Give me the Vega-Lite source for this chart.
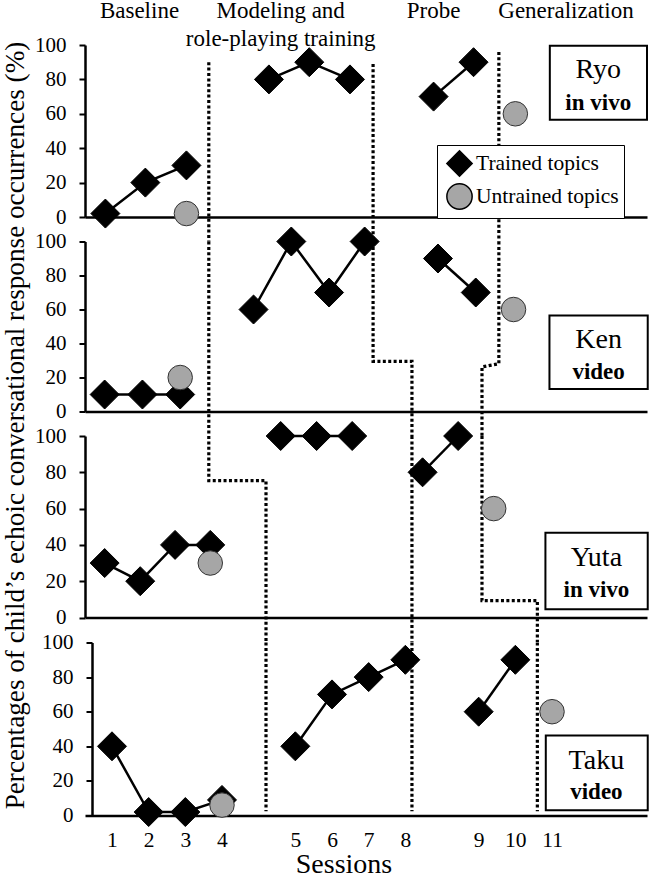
{
  "$schema": "https://vega.github.io/schema/vega-lite/v6.json",
  "background": "white",
  "padding": {"left": 0, "top": 0, "right": 0, "bottom": 0},
  "config": {
    "font": "Liberation Serif",
    "view": {"stroke": null},
    "axis": {"grid": false, "domainColor": "black", "domainWidth": 2.5, "tickColor": "black", "tickWidth": 2, "tickSize": 6, "labelFont": "Liberation Serif", "labelFontSize": 21, "labelColor": "black", "labelPadding": 13, "labelOverlap": false, "titleFont": "Liberation Serif", "titleColor": "black", "titleFontWeight": "normal"},
    "legend": {"rowPadding": 0, "symbolSize": 640, "padding": 5},
    "text": {"font": "Liberation Serif", "color": "black"}
  },
  "datasets": {
    "points": [
      {"child": "Ryo", "phase": "Baseline", "topic": "Trained topics", "pos": 0.82, "value": 2},
      {"child": "Ryo", "phase": "Baseline", "topic": "Trained topics", "pos": 1.91, "value": 20},
      {"child": "Ryo", "phase": "Baseline", "topic": "Trained topics", "pos": 3.03, "value": 30},
      {"child": "Ryo", "phase": "Training", "topic": "Trained topics", "pos": 5.28, "value": 80},
      {"child": "Ryo", "phase": "Training", "topic": "Trained topics", "pos": 6.38, "value": 90},
      {"child": "Ryo", "phase": "Training", "topic": "Trained topics", "pos": 7.49, "value": 80},
      {"child": "Ryo", "phase": "Probe", "topic": "Trained topics", "pos": 9.77, "value": 70},
      {"child": "Ryo", "phase": "Probe", "topic": "Trained topics", "pos": 10.86, "value": 90},
      {"child": "Ryo", "phase": "Baseline", "topic": "Untrained topics", "pos": 3.03, "value": 2},
      {"child": "Ryo", "phase": "Generalization", "topic": "Untrained topics", "pos": 12.0, "value": 60},
      {"child": "Ken", "phase": "Baseline", "topic": "Trained topics", "pos": 0.8, "value": 10},
      {"child": "Ken", "phase": "Baseline", "topic": "Trained topics", "pos": 1.83, "value": 10},
      {"child": "Ken", "phase": "Baseline", "topic": "Trained topics", "pos": 2.86, "value": 10},
      {"child": "Ken", "phase": "Training", "topic": "Trained topics", "pos": 4.86, "value": 60},
      {"child": "Ken", "phase": "Training", "topic": "Trained topics", "pos": 5.89, "value": 100},
      {"child": "Ken", "phase": "Training", "topic": "Trained topics", "pos": 6.92, "value": 70},
      {"child": "Ken", "phase": "Training", "topic": "Trained topics", "pos": 7.89, "value": 100},
      {"child": "Ken", "phase": "Probe", "topic": "Trained topics", "pos": 9.89, "value": 90},
      {"child": "Ken", "phase": "Probe", "topic": "Trained topics", "pos": 10.92, "value": 70},
      {"child": "Ken", "phase": "Baseline", "topic": "Untrained topics", "pos": 2.86, "value": 20},
      {"child": "Ken", "phase": "Generalization", "topic": "Untrained topics", "pos": 11.95, "value": 60},
      {"child": "Yuta", "phase": "Baseline", "topic": "Trained topics", "pos": 0.8, "value": 30},
      {"child": "Yuta", "phase": "Baseline", "topic": "Trained topics", "pos": 1.77, "value": 20},
      {"child": "Yuta", "phase": "Baseline", "topic": "Trained topics", "pos": 2.72, "value": 40},
      {"child": "Yuta", "phase": "Baseline", "topic": "Trained topics", "pos": 3.68, "value": 40},
      {"child": "Yuta", "phase": "Training", "topic": "Trained topics", "pos": 5.6, "value": 100},
      {"child": "Yuta", "phase": "Training", "topic": "Trained topics", "pos": 6.58, "value": 100},
      {"child": "Yuta", "phase": "Training", "topic": "Trained topics", "pos": 7.55, "value": 100},
      {"child": "Yuta", "phase": "Probe", "topic": "Trained topics", "pos": 9.47, "value": 80},
      {"child": "Yuta", "phase": "Probe", "topic": "Trained topics", "pos": 10.44, "value": 100},
      {"child": "Yuta", "phase": "Baseline", "topic": "Untrained topics", "pos": 3.68, "value": 30},
      {"child": "Yuta", "phase": "Generalization", "topic": "Untrained topics", "pos": 11.41, "value": 60},
      {"child": "Taku", "phase": "Baseline", "topic": "Trained topics", "pos": 1, "value": 40},
      {"child": "Taku", "phase": "Baseline", "topic": "Trained topics", "pos": 2, "value": 2},
      {"child": "Taku", "phase": "Baseline", "topic": "Trained topics", "pos": 3, "value": 2},
      {"child": "Taku", "phase": "Baseline", "topic": "Trained topics", "pos": 4, "value": 9},
      {"child": "Taku", "phase": "Training", "topic": "Trained topics", "pos": 6, "value": 40},
      {"child": "Taku", "phase": "Training", "topic": "Trained topics", "pos": 7, "value": 70},
      {"child": "Taku", "phase": "Training", "topic": "Trained topics", "pos": 8, "value": 80},
      {"child": "Taku", "phase": "Training", "topic": "Trained topics", "pos": 9, "value": 90},
      {"child": "Taku", "phase": "Probe", "topic": "Trained topics", "pos": 11, "value": 60},
      {"child": "Taku", "phase": "Probe", "topic": "Trained topics", "pos": 12, "value": 90},
      {"child": "Taku", "phase": "Baseline", "topic": "Untrained topics", "pos": 4, "value": 6},
      {"child": "Taku", "phase": "Generalization", "topic": "Untrained topics", "pos": 13, "value": 60}
    ],
    "phaselines": [
      {"child": "Ryo", "seg": "A", "ord": 1, "pos": 3.64, "value": 90},
      {"child": "Ryo", "seg": "A", "ord": 2, "pos": 3.64, "value": -14.2},
      {"child": "Ryo", "seg": "B", "ord": 1, "pos": 8.12, "value": 89},
      {"child": "Ryo", "seg": "B", "ord": 2, "pos": 8.12, "value": -14.2},
      {"child": "Ryo", "seg": "C", "ord": 1, "pos": 11.55, "value": 96},
      {"child": "Ryo", "seg": "C", "ord": 2, "pos": 11.55, "value": -14.2},
      {"child": "Ken", "seg": "A", "ord": 1, "pos": 3.64, "value": 100},
      {"child": "Ken", "seg": "A", "ord": 2, "pos": 3.64, "value": -14.4},
      {"child": "Ken", "seg": "B", "ord": 1, "pos": 8.12, "value": 100},
      {"child": "Ken", "seg": "B", "ord": 2, "pos": 8.12, "value": 29.5},
      {"child": "Ken", "seg": "B", "ord": 3, "pos": 9.18, "value": 29.5},
      {"child": "Ken", "seg": "B", "ord": 4, "pos": 9.18, "value": -14.4},
      {"child": "Ken", "seg": "C", "ord": 1, "pos": 11.55, "value": 100},
      {"child": "Ken", "seg": "C", "ord": 2, "pos": 11.55, "value": 28.1},
      {"child": "Ken", "seg": "C", "ord": 3, "pos": 11.09, "value": 26.2},
      {"child": "Ken", "seg": "C", "ord": 4, "pos": 11.09, "value": -14.4},
      {"child": "Yuta", "seg": "A", "ord": 1, "pos": 3.64, "value": 100},
      {"child": "Yuta", "seg": "A", "ord": 2, "pos": 3.64, "value": 75.4},
      {"child": "Yuta", "seg": "A", "ord": 3, "pos": 5.2, "value": 75.4},
      {"child": "Yuta", "seg": "A", "ord": 4, "pos": 5.2, "value": -13.5},
      {"child": "Yuta", "seg": "B", "ord": 1, "pos": 9.18, "value": 100},
      {"child": "Yuta", "seg": "B", "ord": 2, "pos": 9.18, "value": -13.5},
      {"child": "Yuta", "seg": "C", "ord": 1, "pos": 11.09, "value": 100},
      {"child": "Yuta", "seg": "C", "ord": 2, "pos": 11.09, "value": 9.3},
      {"child": "Yuta", "seg": "C", "ord": 3, "pos": 12.6, "value": 9.3},
      {"child": "Yuta", "seg": "C", "ord": 4, "pos": 12.6, "value": -13.5},
      {"child": "Taku", "seg": "A", "ord": 1, "pos": 5.2, "value": 100},
      {"child": "Taku", "seg": "A", "ord": 2, "pos": 5.2, "value": 2.5},
      {"child": "Taku", "seg": "B", "ord": 1, "pos": 9.18, "value": 100},
      {"child": "Taku", "seg": "B", "ord": 2, "pos": 9.18, "value": 2.5},
      {"child": "Taku", "seg": "C", "ord": 1, "pos": 12.6, "value": 100},
      {"child": "Taku", "seg": "C", "ord": 2, "pos": 12.6, "value": 2.5}
    ],
    "kids": [
      {"child": "Ryo", "mode": "in vivo"},
      {"child": "Ken", "mode": "video"},
      {"child": "Yuta", "mode": "in vivo"},
      {"child": "Taku", "mode": "video"}
    ],
    "headers": [
      {"phase": "Baseline", "pos": 1.75},
      {"phase": "Modeling and\nrole-playing training", "pos": 5.6},
      {"phase": "Probe", "pos": 9.77},
      {"phase": "Generalization", "pos": 13.38}
    ]
  },
  "vconcat": [
    {
      "width": 562, "height": 172,
      "layer": [
        {"data": {"name": "phaselines"}, "transform": [{"filter": "datum.child === 'Ryo'"}],
         "mark": {"type": "line", "strokeDash": [3, 2.4], "strokeWidth": 3.2, "color": "black"},
         "encoding": {
           "x": {"field": "pos", "type": "quantitative", "scale": {"domain": [0.264, 15.59], "nice": false, "zero": false}, "axis": {"ticks": false, "labels": false, "title": null}},
           "y": {"field": "value", "type": "quantitative", "scale": {"domain": [0, 100], "nice": false}, "axis": {"values": [0, 20, 40, 60, 80, 100], "tickCount": 6, "labelOverlap": false, "title": null}},
           "detail": {"field": "seg"}, "order": {"field": "ord"}}},
        {"data": {"name": "points"}, "transform": [{"filter": "datum.child === 'Ryo' && datum.topic === 'Trained topics'"}],
         "mark": {"type": "line", "color": "black", "strokeWidth": 2.5},
         "encoding": {"x": {"field": "pos", "type": "quantitative"}, "y": {"field": "value", "type": "quantitative", "axis": {"values": [0, 20, 40, 60, 80, 100], "tickCount": 6, "labelOverlap": false, "title": null}}, "detail": {"field": "phase"}}},
        {"data": {"name": "points"}, "transform": [{"filter": "datum.child === 'Ryo' && datum.topic === 'Trained topics'"}],
         "mark": {"type": "point", "filled": true, "opacity": 1, "size": 841, "stroke": "#000000", "strokeWidth": 1},
         "encoding": {"x": {"field": "pos", "type": "quantitative"}, "y": {"field": "value", "type": "quantitative", "axis": {"values": [0, 20, 40, 60, 80, 100], "tickCount": 6, "labelOverlap": false, "title": null}},
           "shape": {"field": "topic", "type": "nominal", "scale": {"domain": ["Trained topics", "Untrained topics"], "range": ["diamond", "circle"]}, "legend": {"orient": "none", "legendX": 352, "legendY": 100, "title": null, "symbolOffset": 4, "strokeColor": "black", "fillColor": "white", "labelFont": "Liberation Serif", "labelFontSize": 21.5, "labelColor": "black", "labelOffset": 3, "labelLimit": 300}},
           "color": {"field": "topic", "type": "nominal", "scale": {"domain": ["Trained topics", "Untrained topics"], "range": ["#000000", "#a6a6a6"]}, "legend": {"orient": "none", "legendX": 352, "legendY": 100, "title": null, "symbolOffset": 4, "strokeColor": "black", "fillColor": "white", "labelFont": "Liberation Serif", "labelFontSize": 21.5, "labelColor": "black", "labelOffset": 3, "labelLimit": 300}}}},
        {"data": {"name": "points"}, "transform": [{"filter": "datum.child === 'Ryo' && datum.topic === 'Untrained topics'"}],
         "mark": {"type": "point", "filled": true, "opacity": 1, "size": 600, "stroke": "#333333", "strokeWidth": 1},
         "encoding": {"x": {"field": "pos", "type": "quantitative"}, "y": {"field": "value", "type": "quantitative", "axis": {"values": [0, 20, 40, 60, 80, 100], "tickCount": 6, "labelOverlap": false, "title": null}},
           "shape": {"field": "topic", "type": "nominal"},
           "color": {"field": "topic", "type": "nominal"}}},
        {"data": {"name": "kids"}, "transform": [{"filter": "datum.child === 'Ryo'"}],
         "mark": {"type": "rect", "fill": "white", "stroke": "black", "strokeWidth": 2},
         "encoding": {"x": {"datum": 12.94, "type": "quantitative"}, "x2": {"datum": 15.59}, "y": {"datum": 99.6, "type": "quantitative"}, "y2": {"datum": 56.6}}},
        {"data": {"name": "kids"}, "transform": [{"filter": "datum.child === 'Ryo'"}],
         "mark": {"type": "text", "fontSize": 28, "baseline": "middle", "align": "center"},
         "encoding": {"x": {"datum": 14.26, "type": "quantitative"}, "y": {"datum": 85.6, "type": "quantitative"}, "text": {"field": "child"}}},
        {"data": {"name": "kids"}, "transform": [{"filter": "datum.child === 'Ryo'"}],
         "mark": {"type": "text", "fontSize": 23, "fontWeight": "bold", "baseline": "middle", "align": "center"},
         "encoding": {"x": {"datum": 14.26, "type": "quantitative"}, "y": {"datum": 66.2, "type": "quantitative"}, "text": {"field": "mode"}}},
        {"data": {"name": "headers"},
         "mark": {"type": "text", "fontSize": 23, "baseline": "alphabetic", "align": "center", "lineBreak": "\n", "lineHeight": 27.4},
         "encoding": {"x": {"field": "pos", "type": "quantitative"}, "y": {"datum": 115.5, "type": "quantitative"}, "text": {"field": "phase"}}}
      ]
    },
    {
      "width": 562, "height": 170,
      "layer": [
        {"data": {"name": "phaselines"}, "transform": [{"filter": "datum.child === 'Ken'"}],
         "mark": {"type": "line", "strokeDash": [3, 2.4], "strokeWidth": 3.2, "color": "black"},
         "encoding": {
           "x": {"field": "pos", "type": "quantitative", "scale": {"domain": [0.264, 15.59], "nice": false, "zero": false}, "axis": {"ticks": false, "labels": false, "title": null}},
           "y": {"field": "value", "type": "quantitative", "scale": {"domain": [0, 100], "nice": false}, "axis": {"values": [0, 20, 40, 60, 80, 100], "tickCount": 6, "labelOverlap": false, "title": "Percentages of child’s echoic conversational response occurrences (%)", "titleFontSize": 27.2, "titleAngle": 270, "titleX": -62, "titleY": 183.5, "titleAlign": "center", "titleBaseline": "alphabetic"}},
           "detail": {"field": "seg"}, "order": {"field": "ord"}}},
        {"data": {"name": "points"}, "transform": [{"filter": "datum.child === 'Ken' && datum.topic === 'Trained topics'"}],
         "mark": {"type": "line", "color": "black", "strokeWidth": 2.5},
         "encoding": {"x": {"field": "pos", "type": "quantitative"}, "y": {"field": "value", "type": "quantitative", "axis": {"values": [0, 20, 40, 60, 80, 100], "tickCount": 6, "labelOverlap": false}}, "detail": {"field": "phase"}}},
        {"data": {"name": "points"}, "transform": [{"filter": "datum.child === 'Ken' && datum.topic === 'Trained topics'"}],
         "mark": {"type": "point", "filled": true, "opacity": 1, "size": 841, "stroke": "#000000", "strokeWidth": 1},
         "encoding": {"x": {"field": "pos", "type": "quantitative"}, "y": {"field": "value", "type": "quantitative", "axis": {"values": [0, 20, 40, 60, 80, 100], "tickCount": 6, "labelOverlap": false}},
           "shape": {"field": "topic", "type": "nominal", "scale": {"domain": ["Trained topics", "Untrained topics"], "range": ["diamond", "circle"]}, "legend": {"orient": "none", "legendX": 352, "legendY": 100, "title": null, "symbolOffset": 4, "strokeColor": "black", "fillColor": "white", "labelFont": "Liberation Serif", "labelFontSize": 21.5, "labelColor": "black", "labelOffset": 3, "labelLimit": 300}},
           "color": {"field": "topic", "type": "nominal", "scale": {"domain": ["Trained topics", "Untrained topics"], "range": ["#000000", "#a6a6a6"]}, "legend": {"orient": "none", "legendX": 352, "legendY": 100, "title": null, "symbolOffset": 4, "strokeColor": "black", "fillColor": "white", "labelFont": "Liberation Serif", "labelFontSize": 21.5, "labelColor": "black", "labelOffset": 3, "labelLimit": 300}}}},
        {"data": {"name": "points"}, "transform": [{"filter": "datum.child === 'Ken' && datum.topic === 'Untrained topics'"}],
         "mark": {"type": "point", "filled": true, "opacity": 1, "size": 600, "stroke": "#333333", "strokeWidth": 1},
         "encoding": {"x": {"field": "pos", "type": "quantitative"}, "y": {"field": "value", "type": "quantitative", "axis": {"values": [0, 20, 40, 60, 80, 100], "tickCount": 6, "labelOverlap": false}},
           "shape": {"field": "topic", "type": "nominal"},
           "color": {"field": "topic", "type": "nominal"}}},
        {"data": {"name": "kids"}, "transform": [{"filter": "datum.child === 'Ken'"}],
         "mark": {"type": "rect", "fill": "white", "stroke": "black", "strokeWidth": 2},
         "encoding": {"x": {"datum": 12.93, "type": "quantitative"}, "x2": {"datum": 15.61}, "y": {"datum": 56.5, "type": "quantitative"}, "y2": {"datum": 13.2}}},
        {"data": {"name": "kids"}, "transform": [{"filter": "datum.child === 'Ken'"}],
         "mark": {"type": "text", "fontSize": 28, "baseline": "middle", "align": "center"},
         "encoding": {"x": {"datum": 14.27, "type": "quantitative"}, "y": {"datum": 42.2, "type": "quantitative"}, "text": {"field": "child"}}},
        {"data": {"name": "kids"}, "transform": [{"filter": "datum.child === 'Ken'"}],
         "mark": {"type": "text", "fontSize": 23, "fontWeight": "bold", "baseline": "middle", "align": "center"},
         "encoding": {"x": {"datum": 14.27, "type": "quantitative"}, "y": {"datum": 23.5, "type": "quantitative"}, "text": {"field": "mode"}}}
      ]
    },
    {
      "width": 562, "height": 181.5,
      "layer": [
        {"data": {"name": "phaselines"}, "transform": [{"filter": "datum.child === 'Yuta'"}],
         "mark": {"type": "line", "strokeDash": [3, 2.4], "strokeWidth": 3.2, "color": "black"},
         "encoding": {
           "x": {"field": "pos", "type": "quantitative", "scale": {"domain": [0.264, 15.59], "nice": false, "zero": false}, "axis": {"ticks": false, "labels": false, "title": null}},
           "y": {"field": "value", "type": "quantitative", "scale": {"domain": [0, 100], "nice": false}, "axis": {"values": [0, 20, 40, 60, 80, 100], "tickCount": 6, "labelOverlap": false, "title": null}},
           "detail": {"field": "seg"}, "order": {"field": "ord"}}},
        {"data": {"name": "points"}, "transform": [{"filter": "datum.child === 'Yuta' && datum.topic === 'Trained topics'"}],
         "mark": {"type": "line", "color": "black", "strokeWidth": 2.5},
         "encoding": {"x": {"field": "pos", "type": "quantitative"}, "y": {"field": "value", "type": "quantitative", "axis": {"values": [0, 20, 40, 60, 80, 100], "tickCount": 6, "labelOverlap": false, "title": null}}, "detail": {"field": "phase"}}},
        {"data": {"name": "points"}, "transform": [{"filter": "datum.child === 'Yuta' && datum.topic === 'Trained topics'"}],
         "mark": {"type": "point", "filled": true, "opacity": 1, "size": 841, "stroke": "#000000", "strokeWidth": 1},
         "encoding": {"x": {"field": "pos", "type": "quantitative"}, "y": {"field": "value", "type": "quantitative", "axis": {"values": [0, 20, 40, 60, 80, 100], "tickCount": 6, "labelOverlap": false, "title": null}},
           "shape": {"field": "topic", "type": "nominal", "scale": {"domain": ["Trained topics", "Untrained topics"], "range": ["diamond", "circle"]}, "legend": {"orient": "none", "legendX": 352, "legendY": 100, "title": null, "symbolOffset": 4, "strokeColor": "black", "fillColor": "white", "labelFont": "Liberation Serif", "labelFontSize": 21.5, "labelColor": "black", "labelOffset": 3, "labelLimit": 300}},
           "color": {"field": "topic", "type": "nominal", "scale": {"domain": ["Trained topics", "Untrained topics"], "range": ["#000000", "#a6a6a6"]}, "legend": {"orient": "none", "legendX": 352, "legendY": 100, "title": null, "symbolOffset": 4, "strokeColor": "black", "fillColor": "white", "labelFont": "Liberation Serif", "labelFontSize": 21.5, "labelColor": "black", "labelOffset": 3, "labelLimit": 300}}}},
        {"data": {"name": "points"}, "transform": [{"filter": "datum.child === 'Yuta' && datum.topic === 'Untrained topics'"}],
         "mark": {"type": "point", "filled": true, "opacity": 1, "size": 600, "stroke": "#333333", "strokeWidth": 1},
         "encoding": {"x": {"field": "pos", "type": "quantitative"}, "y": {"field": "value", "type": "quantitative", "axis": {"values": [0, 20, 40, 60, 80, 100], "tickCount": 6, "labelOverlap": false, "title": null}},
           "shape": {"field": "topic", "type": "nominal"},
           "color": {"field": "topic", "type": "nominal"}}},
        {"data": {"name": "kids"}, "transform": [{"filter": "datum.child === 'Yuta'"}],
         "mark": {"type": "rect", "fill": "white", "stroke": "black", "strokeWidth": 2},
         "encoding": {"x": {"datum": 12.82, "type": "quantitative"}, "x2": {"datum": 15.61}, "y": {"datum": 46.7, "type": "quantitative"}, "y2": {"datum": 4.6}}},
        {"data": {"name": "kids"}, "transform": [{"filter": "datum.child === 'Yuta'"}],
         "mark": {"type": "text", "fontSize": 28, "baseline": "middle", "align": "center"},
         "encoding": {"x": {"datum": 14.21, "type": "quantitative"}, "y": {"datum": 32.8, "type": "quantitative"}, "text": {"field": "child"}}},
        {"data": {"name": "kids"}, "transform": [{"filter": "datum.child === 'Yuta'"}],
         "mark": {"type": "text", "fontSize": 23, "fontWeight": "bold", "baseline": "middle", "align": "center"},
         "encoding": {"x": {"datum": 14.21, "type": "quantitative"}, "y": {"datum": 15, "type": "quantitative"}, "text": {"field": "mode"}}}
      ]
    },
    {
      "width": 562, "height": 173,
      "layer": [
        {"data": {"name": "phaselines"}, "transform": [{"filter": "datum.child === 'Taku'"}],
         "mark": {"type": "line", "strokeDash": [3, 2.4], "strokeWidth": 3.2, "color": "black"},
         "encoding": {
           "x": {"field": "pos", "type": "quantitative", "scale": {"domain": [0.264, 15.59], "nice": false, "zero": false},
             "axis": {"values": [1, 2, 3, 4, 6, 7, 8, 9, 11, 12, 13], "tickCount": 20, "labelExpr": "datum.value <= 4 ? datum.value : (datum.value <= 9 ? datum.value - 1 : datum.value - 2)", "ticks": false, "labelFontSize": 21.5, "labelPadding": 14, "labelFlush": false, "labelOverlap": false, "title": "Sessions", "titleFontSize": 28, "titleX": 258.5, "titleY": 57, "titleAlign": "center", "titleBaseline": "alphabetic"}},
           "y": {"field": "value", "type": "quantitative", "scale": {"domain": [0, 100], "nice": false}, "axis": {"values": [0, 20, 40, 60, 80, 100], "tickCount": 6, "labelOverlap": false, "title": null, "offset": -7}},
           "detail": {"field": "seg"}, "order": {"field": "ord"}}},
        {"data": {"name": "points"}, "transform": [{"filter": "datum.child === 'Taku' && datum.topic === 'Trained topics'"}],
         "mark": {"type": "line", "color": "black", "strokeWidth": 2.5},
         "encoding": {"x": {"field": "pos", "type": "quantitative"}, "y": {"field": "value", "type": "quantitative", "axis": {"values": [0, 20, 40, 60, 80, 100], "tickCount": 6, "labelOverlap": false, "title": null, "offset": -7}}, "detail": {"field": "phase"}}},
        {"data": {"name": "points"}, "transform": [{"filter": "datum.child === 'Taku' && datum.topic === 'Trained topics'"}],
         "mark": {"type": "point", "filled": true, "opacity": 1, "size": 841, "stroke": "#000000", "strokeWidth": 1},
         "encoding": {"x": {"field": "pos", "type": "quantitative"}, "y": {"field": "value", "type": "quantitative", "axis": {"values": [0, 20, 40, 60, 80, 100], "tickCount": 6, "labelOverlap": false, "title": null, "offset": -7}},
           "shape": {"field": "topic", "type": "nominal", "scale": {"domain": ["Trained topics", "Untrained topics"], "range": ["diamond", "circle"]}, "legend": {"orient": "none", "legendX": 352, "legendY": 100, "title": null, "symbolOffset": 4, "strokeColor": "black", "fillColor": "white", "labelFont": "Liberation Serif", "labelFontSize": 21.5, "labelColor": "black", "labelOffset": 3, "labelLimit": 300}},
           "color": {"field": "topic", "type": "nominal", "scale": {"domain": ["Trained topics", "Untrained topics"], "range": ["#000000", "#a6a6a6"]}, "legend": {"orient": "none", "legendX": 352, "legendY": 100, "title": null, "symbolOffset": 4, "strokeColor": "black", "fillColor": "white", "labelFont": "Liberation Serif", "labelFontSize": 21.5, "labelColor": "black", "labelOffset": 3, "labelLimit": 300}}}},
        {"data": {"name": "points"}, "transform": [{"filter": "datum.child === 'Taku' && datum.topic === 'Untrained topics'"}],
         "mark": {"type": "point", "filled": true, "opacity": 1, "size": 600, "stroke": "#333333", "strokeWidth": 1},
         "encoding": {"x": {"field": "pos", "type": "quantitative"}, "y": {"field": "value", "type": "quantitative", "axis": {"values": [0, 20, 40, 60, 80, 100], "tickCount": 6, "labelOverlap": false, "title": null, "offset": -7}},
           "shape": {"field": "topic", "type": "nominal"},
           "color": {"field": "topic", "type": "nominal"}}},
        {"data": {"name": "kids"}, "transform": [{"filter": "datum.child === 'Taku'"}],
         "mark": {"type": "rect", "fill": "white", "stroke": "black", "strokeWidth": 2},
         "encoding": {"x": {"datum": 12.83, "type": "quantitative"}, "x2": {"datum": 15.61}, "y": {"datum": 46.2, "type": "quantitative"}, "y2": {"datum": 3}}},
        {"data": {"name": "kids"}, "transform": [{"filter": "datum.child === 'Taku'"}],
         "mark": {"type": "text", "fontSize": 28, "baseline": "middle", "align": "center"},
         "encoding": {"x": {"datum": 14.21, "type": "quantitative"}, "y": {"datum": 31.3, "type": "quantitative"}, "text": {"field": "child"}}},
        {"data": {"name": "kids"}, "transform": [{"filter": "datum.child === 'Taku'"}],
         "mark": {"type": "text", "fontSize": 23, "fontWeight": "bold", "baseline": "middle", "align": "center"},
         "encoding": {"x": {"datum": 14.21, "type": "quantitative"}, "y": {"datum": 13.6, "type": "quantitative"}, "text": {"field": "mode"}}}
      ]
    }
  ],
  "spacing": 24.5,
  "bounds": "flush",
  "resolve": {"scale": {"x": "independent", "y": "independent"}}
}
